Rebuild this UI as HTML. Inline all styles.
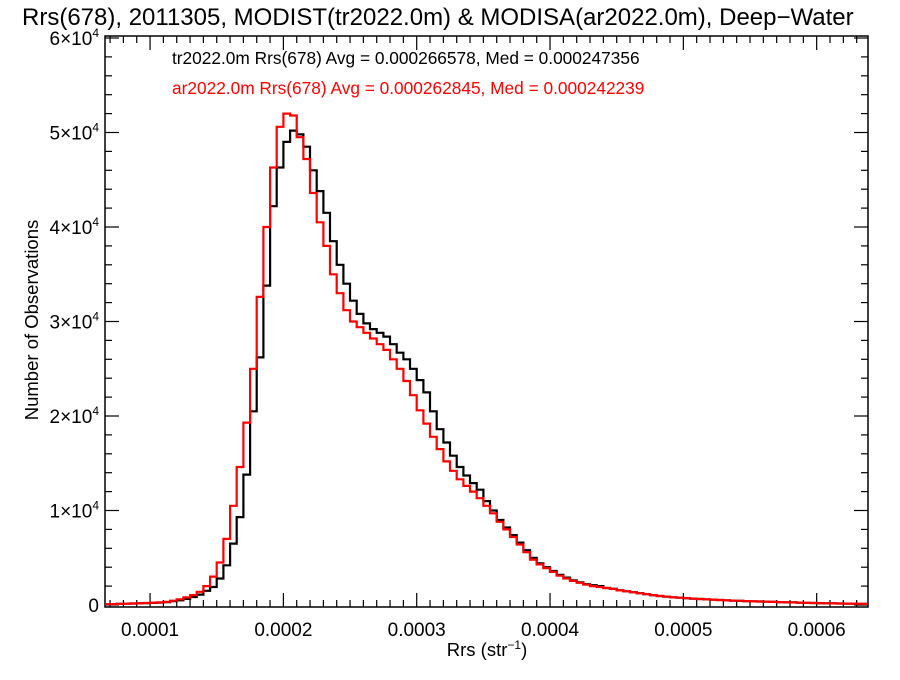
<!DOCTYPE html>
<html><head><meta charset="utf-8"><style>
body{margin:0;background:#fff;}
svg text{font-family:"Liberation Sans",sans-serif;}
</style></head><body>
<svg id="chart" width="900" height="675" viewBox="0 0 900 675" xmlns="http://www.w3.org/2000/svg">
<text x="22" y="25" font-size="24">Rrs(678), 2011305, MODIST(tr2022.0m) &amp; MODISA(ar2022.0m), Deep−Water</text>
<text x="172" y="64" font-size="17.3">tr2022.0m Rrs(678) Avg = 0.000266578, Med = 0.000247356</text>
<text x="172" y="94" font-size="17.3" fill="#f00">ar2022.0m Rrs(678) Avg = 0.000262845, Med = 0.000242239</text>
<text transform="translate(38,320) rotate(-90)" text-anchor="middle" font-size="18.5">Number of Observations</text>
<text x="487" y="656" text-anchor="middle" font-size="18.5">Rrs (str<tspan dy="-7" font-size="12">−1</tspan><tspan dy="7">)</tspan></text>
<g id="axes"></g>
<g id="series"></g>
</svg>
<script>
const binStart=0.65, binWidth=0.05; // units of 1e-4
const trCounts=[0.01,0.01,0.012,0.014,0.016,0.018,0.02,
0.022,0.025,0.03,0.04,0.05,0.065,0.085,0.11,0.15,0.19,
0.28,0.42,0.65,0.93,1.38,2.05,2.62,3.38,4.22,4.63,
4.9,5.02,4.98,4.85,4.6,4.38,4.15,3.85,3.6,3.4,
3.22,3.08,2.98,2.92,2.88,2.84,2.76,2.67,2.6,2.5,
2.38,2.25,2.05,1.86,1.72,1.58,1.46,1.37,1.29,1.22,
1.1,1.0,0.9,0.82,0.74,0.66,0.58,0.5,0.44,0.4,
0.36,0.32,0.29,0.26,0.24,0.22,0.21,0.2,0.18,0.17,
0.155,0.145,0.135,0.125,0.115,0.105,0.095,0.088,0.082,0.077,
0.072,0.067,0.063,0.06,0.057,0.053,0.05,0.047,0.044,0.041,
0.039,0.037,0.035,0.033,0.031,0.029,0.027,0.025,0.023,0.021,
0.019,0.018,0.017,0.016,0.015,0.014,0.013,0.012];
const arCounts=[0.01,0.01,0.012,0.014,0.016,0.018,0.021,
0.024,0.028,0.034,0.045,0.06,0.08,0.105,0.14,0.2,0.3,
0.45,0.7,1.05,1.46,1.93,2.5,3.26,4.0,4.63,5.06,
5.2,5.18,4.95,4.72,4.36,4.05,3.8,3.5,3.3,3.12,
3.0,2.94,2.88,2.82,2.76,2.7,2.6,2.5,2.37,2.22,
2.06,1.92,1.78,1.65,1.52,1.42,1.33,1.26,1.2,1.13,
1.05,0.97,0.88,0.8,0.72,0.64,0.56,0.48,0.43,0.39,
0.35,0.31,0.28,0.255,0.235,0.215,0.2,0.19,0.18,0.17,
0.155,0.145,0.135,0.125,0.115,0.105,0.095,0.088,0.082,0.077,
0.072,0.067,0.063,0.06,0.057,0.053,0.05,0.047,0.044,0.041,
0.039,0.037,0.035,0.033,0.031,0.029,0.027,0.025,0.023,0.021,
0.019,0.018,0.017,0.016,0.015,0.014,0.013,0.012];
const xTicks=[1,2,3,4,5,6];
const xTickLabels=["0.0001","0.0002","0.0003","0.0004","0.0005","0.0006"];
const yTicks=[0,1,2,3,4,5,6];
const X0=105,X1=868,Y0=607,YT=36;
const xMin=0.662,xMax=6.385;
function sx(v){return X0+(v-xMin)/(xMax-xMin)*(X1-X0);}
function sy(v){return 605-v*94.5;}
const NS="http://www.w3.org/2000/svg";
function mk(tag,attrs,parent){const e=document.createElementNS(NS,tag);for(const k in attrs)e.setAttribute(k,attrs[k]);parent.appendChild(e);return e;}
const ax=document.getElementById('axes');
const frame=mk('rect',{x:X0,y:YT,width:X1-X0,height:Y0-YT,fill:'none',stroke:'#000','stroke-width':1.5},ax);


for(let m=7;m<=63;m++){const v=m/10;const x=sx(v);if(x<X0||x>X1)continue;const major=m%10===0;const L=major?14:7;
 const t1=mk('line',{x1:x,x2:x,y1:Y0,y2:Y0-L,stroke:'#000','stroke-width':1.2},ax);
 
 
 const t2=mk('line',{x1:x,x2:x,y1:YT,y2:YT+L,stroke:'#000','stroke-width':1.2},ax);
 
 }
xTicks.forEach((v,i)=>{const t=mk('text',{x:sx(v),y:Y0+29,'text-anchor':'middle','font-size':19},ax);t.textContent=xTickLabels[i];
 
 });
for(let m=0;m<=30;m++){const v=m/5;const y=sy(v);const major=m%5===0;const L=major?14:7;
 const t1=mk('line',{x1:X0,x2:X0+L,y1:y,y2:y,stroke:'#000','stroke-width':1.2},ax);
 
 
 const t2=mk('line',{x1:X1,x2:X1-L,y1:y,y2:y,stroke:'#000','stroke-width':1.2},ax);
 
 }
yTicks.forEach(v=>{const t=mk('text',{x:X0-6,y:sy(v)+7,'text-anchor':'end','font-size':19},ax);
 if(v===0)t.textContent='0';else t.innerHTML=v+'×10<tspan dy="-8" font-size="12">4</tspan>';
 
 });
function stepPath(vals){let d='';for(let i=0;i<vals.length;i++){
 const l=Math.max(binStart+i*binWidth,xMin),r=Math.min(binStart+(i+1)*binWidth,xMax);
 const y=sy(vals[i]);d+=(i===0?'M':'L')+sx(l).toFixed(1)+','+y.toFixed(1)+'L'+sx(r).toFixed(1)+','+y.toFixed(1);}return d;}
const sg=document.getElementById('series');
const p1=mk('path',{d:stepPath(trCounts),fill:'none',stroke:'#000','stroke-width':2.2},sg);


const p2=mk('path',{d:stepPath(arCounts),fill:'none',stroke:'#f00','stroke-width':2.2},sg);


</script>
</body></html>
